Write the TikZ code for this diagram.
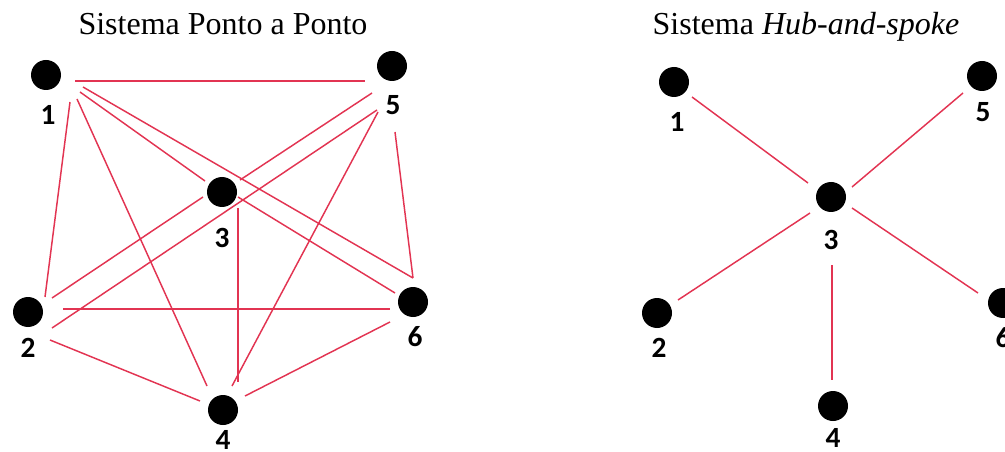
\documentclass[tikz,border=0pt]{standalone}
\usepackage{fontspec}
\setmainfont{Liberation Serif}
\newfontfamily\labelfont{Carlito}
\usetikzlibrary{calc}
\definecolor{linkred}{RGB}{226,52,82}

\begin{document}
\begin{tikzpicture}[x=0.75pt,y=-0.75pt,
  dot/.style={circle,fill=black,inner sep=0pt,minimum size=22.5pt},
  num/.style={font=\labelfont\bfseries\fontsize{22}{24}\selectfont,inner sep=0pt},
  ttl/.style={font=\fontsize{24}{27}\selectfont,anchor=base,inner sep=0pt},
  link/.style={linkred,line width=1.1pt}]
  \useasboundingbox (0,0) rectangle (1005,452);
  \clip (0,0) rectangle (1005,452);

  % Point-to-point network
  \node[ttl] (tpp) at (223,35) {Sistema Ponto a Ponto};
  % Stations
  \node[dot] (n1) at (46,75) {};
  \node[dot] (n2) at (28,312) {};
  \node[dot] (n3) at (222,192) {};
  \node[dot] (n4) at (223,410) {};
  \node[dot] (n5) at (392,66) {};
  \node[dot] (n6) at (413,302) {};
  \node[num] (l1) at (48,115) {1};
  \node[num] (l2) at (28,348) {2};
  \node[num] (l3) at (222,238) {3};
  \node[num] (l4) at (223,440) {4};
  \node[num] (l5) at (393,105) {5};
  \node[num] (l6) at (415,337) {6};
  % Every pair linked
  \draw[link] ($(n1)+(29,6)$) -- ($(n5)+(-27,15)$);
  \draw[link] ($(n1)+(24,27)$) -- ($(n2)+(17,-15)$);
  \draw[link] ($(n1)+(31,24)$) -- ($(n4)+(-16,-24)$);
  \draw[link] ($(n1)+(34,17)$) -- ($(n3)+(-17,-11)$);
  \draw[link] ($(n1)+(37,12)$) -- ($(n6)+(0,-24)$);
  \draw[link] ($(n5)+(3,66)$) -- ($(n6)+(0,-24)$);
  \draw[link] ($(n2)+(24,-14)$) -- ($(n3)+(-19,5)$);
  \draw[link] ($(n3)+(18,-12)$) -- ($(n5)+(-20,27)$);
  \draw[link] ($(n2)+(24,16)$) -- ($(n5)+(-15,44)$);
  \draw[link] ($(n2)+(35,-3)$) -- ($(n6)+(-23,7)$);
  \draw[link] ($(n2)+(22,28)$) -- ($(n4)+(-23,-9)$);
  \draw[link] ($(n3)+(16,16)$) -- ($(n4)+(15,-28)$);
  \draw[link] ($(n4)+(9,-24)$) -- ($(n5)+(-14,46)$);
  \draw[link] ($(n4)+(22,-14)$) -- ($(n6)+(-23,20)$);
  \draw[link] ($(n3)+(16,5)$) -- ($(n6)+(-18,-9)$);

  % Hub-and-spoke network
  \node[ttl] (ths) at (806,35) {Sistema \textit{Hub-and-spoke}};
  \node[dot] (r1) at (674,82) {};
  \node[dot] (r2) at (657,313) {};
  \node[dot] (r3) at (831,197) {};
  \node[dot] (r4) at (833,406) {};
  \node[dot] (r5) at (982,76) {};
  \node[dot] (r6) at (1003,303) {};
  \node[num] (m1) at (677,122) {1};
  \node[num] (m2) at (659,348) {2};
  \node[num] (m3) at (831,240) {3};
  \node[num] (m4) at (833,438) {4};
  \node[num] (m5) at (983,112) {5};
  \node[num] (m6) at (1003,338) {6};
  % Spokes from the hub
  \draw[link] ($(r1)+(18,15)$) -- ($(r3)+(-23,-14)$);
  \draw[link] ($(r3)+(21,-10)$) -- ($(r5)+(-19,17)$);
  \draw[link] ($(r3)+(-21,16)$) -- ($(r2)+(21,-13)$);
  \draw[link] ($(r3)+(21,11)$) -- ($(r6)+(-25,-10)$);
  \draw[link] ($(r3)+(1,68)$) -- ($(r4)+(-1,-26)$);
\end{tikzpicture}
\end{document}
